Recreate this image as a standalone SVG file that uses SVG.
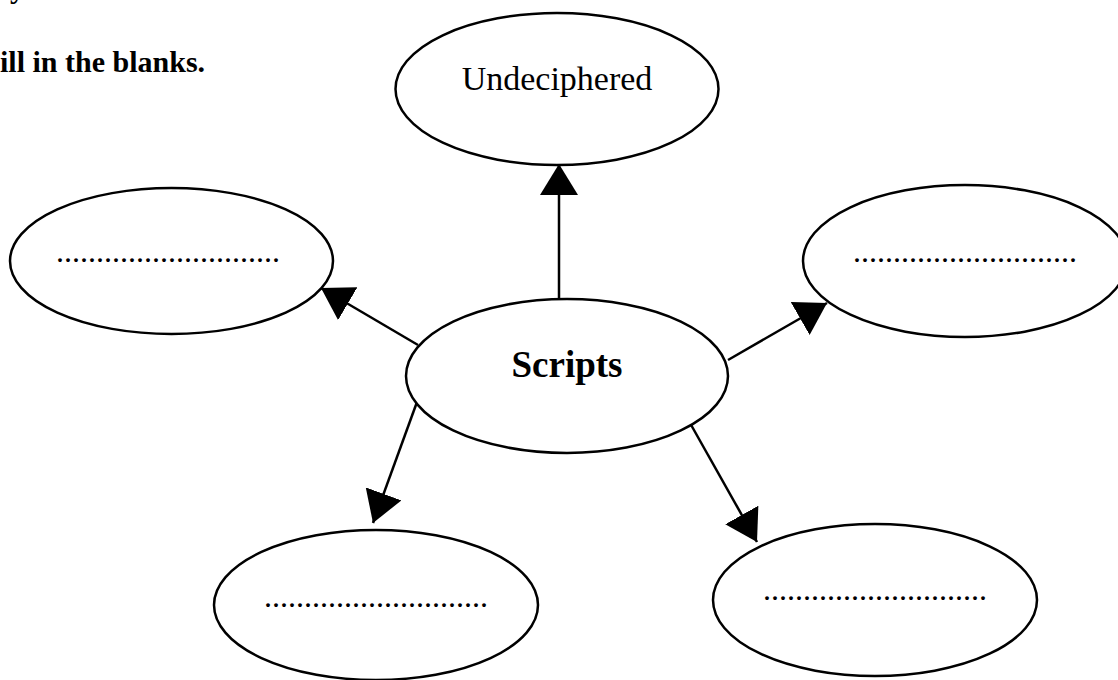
<svg xmlns="http://www.w3.org/2000/svg" width="1118" height="680" viewBox="0 0 1118 680">
<defs>
<style>
.node{fill:#fff;stroke:#000;stroke-width:2.5}
.lbl{font-family:"Liberation Serif","Times New Roman",serif;fill:#000;text-anchor:middle}
.dots{font-family:"Liberation Serif","Times New Roman",serif;font-size:32px;fill:#000;text-anchor:middle}
.edge{stroke:#000;stroke-width:2.5;fill:none;marker-end:url(#ah)}
.head{font-family:"Liberation Serif","Times New Roman",serif;font-weight:bold;font-size:30px;fill:#000}
</style>
<marker id="ah" viewBox="0 0 31 38" refX="31" refY="19" markerWidth="31" markerHeight="38" markerUnits="userSpaceOnUse" orient="auto">
<path d="M0,0 L31,19 L0,38 Z" fill="#000"/>
</marker>
</defs>
<rect width="1118" height="680" fill="#fff"/>
<text class="head" x="10" y="-2">y</text>
<text class="head" x="0" y="72">ill in the blanks.</text>
<g id="connectors">
<line class="edge" x1="559" y1="299" x2="559" y2="164"/>
<line class="edge" x1="418" y1="345" x2="321" y2="288"/>
<line class="edge" x1="728" y1="360" x2="827" y2="303"/>
<line class="edge" x1="417" y1="402" x2="373" y2="523"/>
<line class="edge" x1="690" y1="423" x2="757" y2="542"/>
</g>
<g id="undeciphered">
<ellipse class="node" cx="557" cy="89" rx="161.5" ry="76"/>
<text class="lbl" x="557" y="90" font-size="34">Undeciphered</text>
</g>
<g id="blank-left">
<ellipse class="node" cx="171.5" cy="261" rx="161.5" ry="73"/>
<text class="dots" x="168" y="262">............................</text>
</g>
<g id="blank-right">
<ellipse class="node" cx="965" cy="261" rx="162" ry="76"/>
<text class="dots" x="965" y="262">............................</text>
</g>
<g id="scripts">
<ellipse class="node" cx="567" cy="376" rx="161" ry="77"/>
<text class="lbl" x="567" y="377" font-size="37" font-weight="bold">Scripts</text>
</g>
<g id="blank-bottom-left">
<ellipse class="node" cx="376" cy="605" rx="162" ry="75"/>
<text class="dots" x="376" y="607">............................</text>
</g>
<g id="blank-bottom-right">
<ellipse class="node" cx="875" cy="600" rx="162" ry="76"/>
<text class="dots" x="875" y="600">............................</text>
</g>
</svg>
